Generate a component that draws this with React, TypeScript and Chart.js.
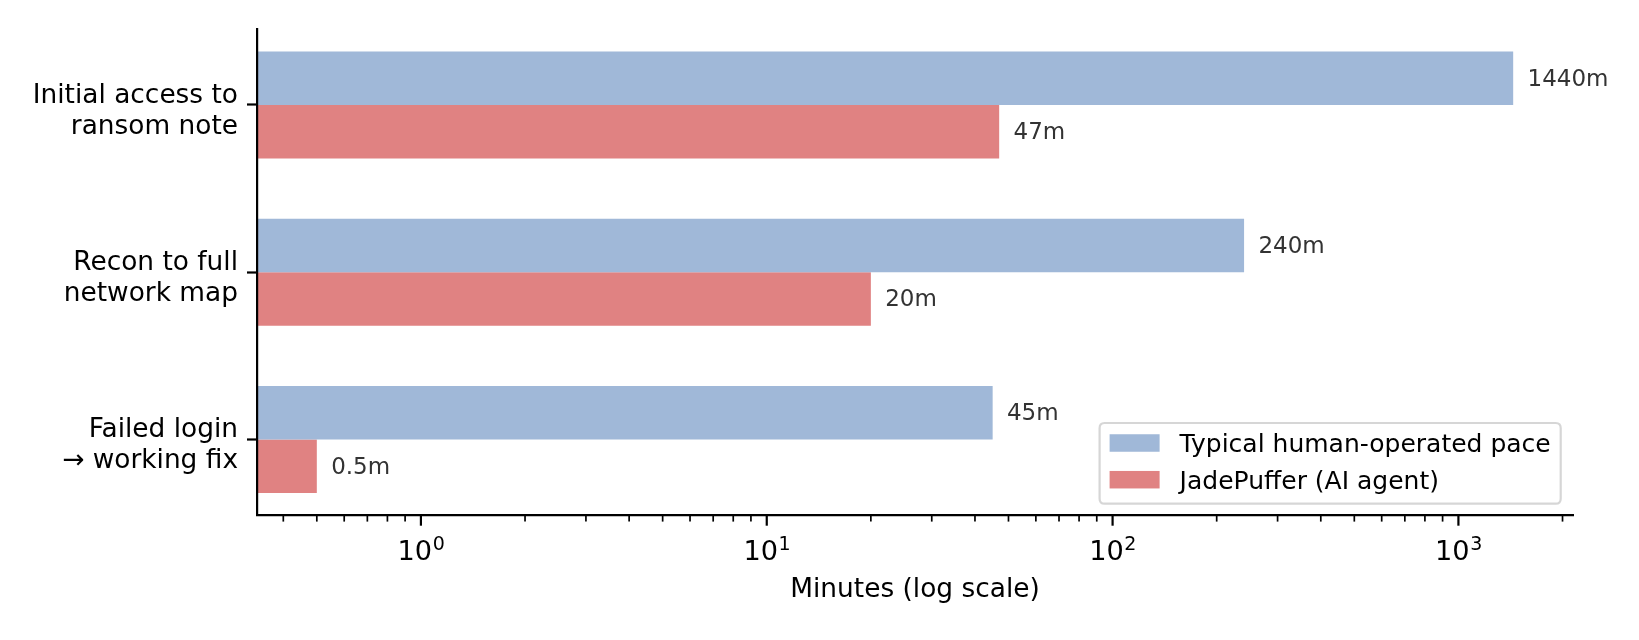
import React, { useEffect, useRef } from 'react';
import { Chart, registerables } from 'chart.js';

Chart.register(...registerables);

// ---- data ----
const categories: string[][] = [
  ['Initial access to', 'ransom note'],
  ['Recon to full', 'network map'],
  ['Failed login', '→ working fix'],
];
const humanMinutes: number[] = [1440, 240, 45];
const agentMinutes: number[] = [47, 20, 0.5];
const seriesLabels: string[] = ['Typical human-operated pace', 'JadePuffer (AI agent)'];
const seriesColors: string[] = ['#a0b8d8', '#e08282'];
const xMajorTicks: number[] = [1, 10, 100, 1000];
const xTickExponents: string[] = ['0', '1', '2', '3'];
const xAxisTitle = 'Minutes (log scale)';
const valueSuffix = 'm';

// ---- style constants ----
const FONT = "'DejaVu Sans', sans-serif";
const BAR_H = 0.32;
const TICK_FS = 26.4;
const XTICK_FS = 27.2;
const LEGEND_FS = 25;
const VALUE_FS = 23;

// axis limits in the style of matplotlib autoscaling (5% margins)
const allVals = [...humanMinutes, ...agentMinutes];
const lmin = Math.log10(Math.min(...allVals));
const lmax = Math.log10(Math.max(...allVals));
const lpad = 0.05 * (lmax - lmin);
const xMin = Math.pow(10, lmin - lpad);
const xMax = Math.pow(10, lmax + lpad);
const yLo = -BAR_H;
const yHi = categories.length - 1 + BAR_H;
const yPad = 0.05 * (yHi - yLo);
const yMin = yLo - yPad;
const yMax = yHi + yPad;

const overlayPlugin = {
  id: 'overlay',
  afterDraw(chart: any) {
    const { ctx, chartArea } = chart;
    const xs = chart.scales.x;
    ctx.save();

    // x tick marks (major + minor)
    ctx.strokeStyle = '#000';
    const y0 = chartArea.bottom + 1;
    const e0 = Math.floor(Math.log10(xs.min));
    const e1 = Math.ceil(Math.log10(xs.max));
    for (let e = e0; e <= e1; e++) {
      for (let k = 1; k < 10; k++) {
        const v = k * Math.pow(10, e);
        if (v <= xs.min || v >= xs.max) continue;
        const px = xs.getPixelForValue(v);
        const major = k === 1;
        ctx.lineWidth = major ? 2.2 : 1.7;
        ctx.beginPath();
        ctx.moveTo(px, y0);
        ctx.lineTo(px, y0 + (major ? 9.7 : 5.6));
        ctx.stroke();
      }
    }

    // x tick labels: 10^n
    ctx.fillStyle = '#000';
    ctx.textBaseline = 'alphabetic';
    ctx.textAlign = 'left';
    xMajorTicks.forEach((v, i) => {
      const px = xs.getPixelForValue(v);
      ctx.font = `${XTICK_FS}px ${FONT}`;
      const w1 = ctx.measureText('10').width;
      ctx.font = `${XTICK_FS * 0.7}px ${FONT}`;
      const w2 = ctx.measureText(xTickExponents[i]).width;
      const x0 = px - (w1 + w2) / 2;
      ctx.font = `${XTICK_FS}px ${FONT}`;
      ctx.fillText('10', x0, chartArea.bottom + 45);
      ctx.font = `${XTICK_FS * 0.7}px ${FONT}`;
      ctx.fillText(xTickExponents[i], x0 + w1 + 0.5, chartArea.bottom + 35);
    });

    // value labels
    ctx.font = `${VALUE_FS}px ${FONT}`;
    ctx.fillStyle = '#333333';
    ctx.textBaseline = 'middle';
    chart.data.datasets.forEach((ds: any, di: number) => {
      const meta = chart.getDatasetMeta(di);
      meta.data.forEach((bar: any, i: number) => {
        const val = ds.data[i].x;
        const px = xs.getPixelForValue(val * 1.1);
        ctx.fillText(`${val}${valueSuffix}`, px, bar.y + 1.5);
      });
    });

    // legend (lower right, inside axes)
    const fs = LEGEND_FS;
    ctx.font = `${fs}px ${FONT}`;
    const labels = chart.data.datasets.map((d: any) => d.label);
    const textW = Math.max(...labels.map((l: string) => ctx.measureText(l).width));
    const pad = 0.4 * fs;
    const handleL = 2 * fs;
    const handleH = 0.7 * fs;
    const textPad = 0.8 * fs;
    const boxW = 2 * pad + handleL + textPad + textW;
    const boxH = 80.7;
    const right = chartArea.right - 12.3;
    const bottom = chartArea.bottom - 11.3;
    const left = right - boxW;
    const top = bottom - boxH;
    const r = 5;
    ctx.beginPath();
    ctx.moveTo(left + r, top);
    ctx.lineTo(right - r, top);
    ctx.quadraticCurveTo(right, top, right, top + r);
    ctx.lineTo(right, bottom - r);
    ctx.quadraticCurveTo(right, bottom, right - r, bottom);
    ctx.lineTo(left + r, bottom);
    ctx.quadraticCurveTo(left, bottom, left, bottom - r);
    ctx.lineTo(left, top + r);
    ctx.quadraticCurveTo(left, top, left + r, top);
    ctx.closePath();
    ctx.fillStyle = 'rgba(255,255,255,0.8)';
    ctx.fill();
    ctx.strokeStyle = 'rgba(204,204,204,0.8)';
    ctx.lineWidth = 2.2;
    ctx.stroke();
    ctx.textBaseline = 'alphabetic';
    labels.forEach((l: string, i: number) => {
      const cy = top + 20 + i * 36.7;
      ctx.fillStyle = chart.data.datasets[i].backgroundColor;
      ctx.fillRect(left + pad, cy - handleH / 2, handleL, handleH);
      ctx.fillStyle = '#000';
      ctx.fillText(l, left + pad + handleL + textPad, cy + 0.3645 * fs);
    });

    ctx.restore();
  },
};

export default function App() {
  const canvasRef = useRef<HTMLCanvasElement | null>(null);

  useEffect(() => {
    const canvas = canvasRef.current;
    if (!canvas) return;
    const seriesData = [humanMinutes, agentMinutes];
    const chart = new Chart(canvas, {
      type: 'bar',
      data: {
        datasets: seriesData.map((vals, si) => ({
          label: seriesLabels[si],
          data: vals.map((v, i) => ({ x: v, y: i })),
          backgroundColor: seriesColors[si],
          borderWidth: 0,
          categoryPercentage: 2 * BAR_H,
          barPercentage: 1,
        })),
      },
      options: {
        indexAxis: 'y',
        responsive: false,
        animation: false,
        events: [],
        layout: { padding: { left: 0, top: 29.3, right: 66, bottom: 0 } },
        plugins: {
          legend: { display: false },
          tooltip: { enabled: false },
        },
        scales: {
          x: {
            type: 'logarithmic',
            position: 'bottom',
            min: xMin,
            max: xMax,
            bounds: 'data',
            grid: { display: false },
            ticks: { display: false },
            border: { display: true, color: '#000', width: 2.2, z: 1 },
            title: {
              display: true,
              text: xAxisTitle,
              color: '#000',
              font: { family: FONT, size: TICK_FS },
              padding: { top: 0, bottom: 34.5 },
            },
            afterFit: (s: any) => {
              s.height = 125;
              s.paddingLeft = 0;
              s.paddingRight = 0;
            },
          },
          y: {
            type: 'linear',
            position: 'left',
            reverse: true,
            offset: false,
            min: yMin,
            max: yMax,
            afterBuildTicks: (s: any) => {
              s.ticks = categories.map((_, i) => ({ value: i }));
            },
            ticks: {
              callback: (v: any) => categories[v as number],
              color: '#000',
              font: { family: FONT, size: TICK_FS, lineHeight: 30.6 / TICK_FS },
              padding: 9,
              labelOffset: 6.5,
              autoSkip: false,
            },
            grid: {
              display: true,
              offset: false,
              drawOnChartArea: false,
              drawTicks: true,
              tickLength: 10,
              tickWidth: 2.2,
              tickColor: '#000',
            },
            border: { display: true, color: '#000', width: 2.2, z: 1 },
            afterFit: (s: any) => {
              s.width = 257;
              s.paddingTop = 0;
              s.paddingBottom = 0;
            },
          },
        },
      } as any,
      plugins: [overlayPlugin],
    });
    return () => chart.destroy();
  }, []);

  return (
    <div style={{ position: 'absolute', left: 0, top: 0, width: 1639, height: 640, background: '#fff' }}>
      <canvas ref={canvasRef} width={1639} height={640} style={{ display: 'block' }} />
    </div>
  );
}
